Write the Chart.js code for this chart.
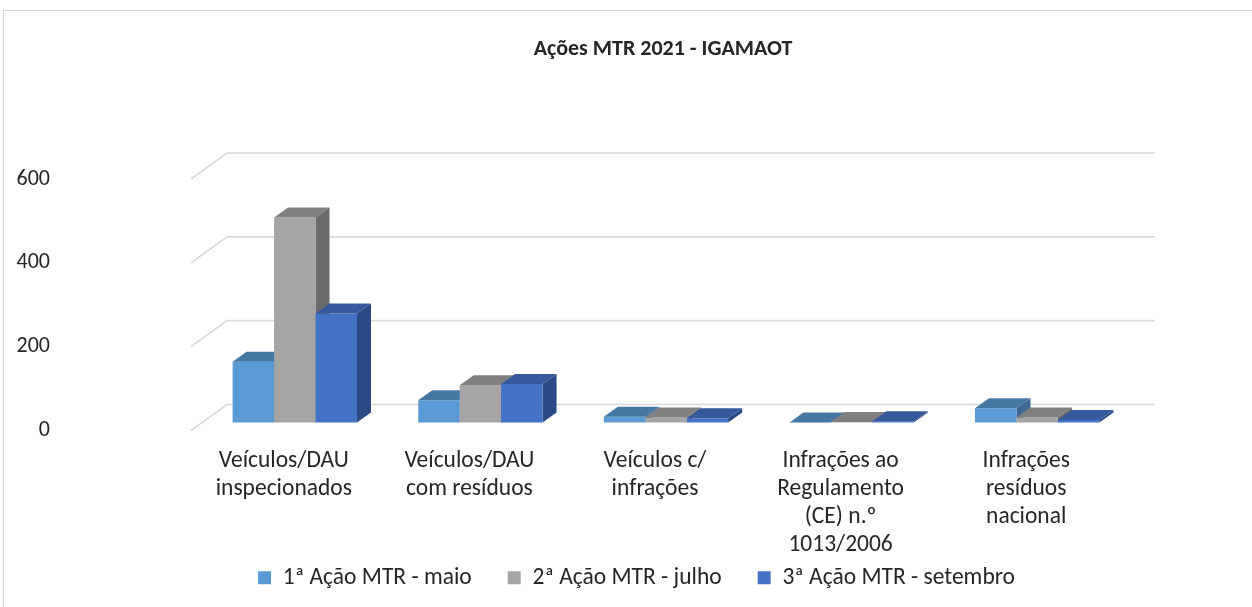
<!DOCTYPE html>
<html>
<head>
<meta charset="utf-8">
<script src="https://cdn.jsdelivr.net/npm/chart.js@4/dist/chart.umd.min.js"></script>
<style>
  html, body { margin: 0; padding: 0; background: #fff; }
  #wrap { position: relative; width: 1252px; height: 607px; }
</style>
</head>
<body>
<div id="wrap"><canvas id="c"></canvas></div>
<script>
"use strict";

var categories = [
    ["Veículos/DAU", "inspecionados"],
    ["Veículos/DAU", "com resíduos"],
    ["Veículos c/", "infrações"],
    ["Infrações ao", "Regulamento", "(CE) n.º", "1013/2006"],
    ["Infrações", "resíduos", "nacional"]
];
var seriesNames = ["1ª Ação MTR - maio", "2ª Ação MTR - julho", "3ª Ação MTR - setembro"];
var maio = [145, 53, 14, 0, 34];
var julho = [489, 89, 12, 1, 12];
var setembro = [260, 92, 10, 3, 6];
var yTicks = [0, 200, 400, 600];

var FONT = "Carlito, Lato, sans-serif";
var TEXT_COLOR = "#262626";
var GRID_COLOR = "#d9d9d9";

// front / top / side colours for each series
var FACES = [
    { front: "#5b9bd5", top: "#4577a5", side: "#3d6894" },
    { front: "#a5a5a5", top: "#808080", side: "#6a6a6a" },
    { front: "#4472c4", top: "#35599a", side: "#2b4a84" }
];

var WALL_DX = 36, WALL_DY = -26;   // depth of the floor
var BAR_DX = 11, BAR_DY = -8;      // where the bars sit inside it
var DEPTH_DX = 14, DEPTH_DY = -10; // depth of one bar

var frame = {
    id: "frame",
    beforeDraw: function(chart) {
        var ctx = chart.ctx;
        ctx.save();
        ctx.strokeStyle = GRID_COLOR;
        ctx.lineWidth = 1;
        ctx.strokeRect(3.5, 10.5, 1400, 800);
        ctx.restore();
    }
};

var wall = {
    id: "wall",
    afterLayout: function(chart) {
        // title and legend are not centred on the canvas in the original
        if (chart.titleBlock) {
            chart.titleBlock.left = 74;
        }
        if (chart.legend) {
            var h = chart.legend.height;
            chart.legend.left = 21;
            chart.legend.top = 530;
            chart.legend.bottom = 530 + h;
        }
    },
    beforeDatasetsDraw: function(chart) {
        var ctx = chart.ctx;
        var area = chart.chartArea;
        var y = chart.scales.y;
        ctx.save();
        ctx.strokeStyle = GRID_COLOR;
        ctx.lineWidth = 1.6;
        y.ticks.forEach(function(t) {
            var py = y.getPixelForValue(t.value);
            ctx.beginPath();
            ctx.moveTo(area.left, py);
            ctx.lineTo(area.left + WALL_DX, py + WALL_DY);
            ctx.lineTo(area.right + WALL_DX, py + WALL_DY);
            ctx.stroke();
        });

        var metas = chart.data.datasets.map(function(d, i) { return chart.getDatasetMeta(i); });
        for (var i = 0; i < categories.length; i++) {
            for (var j = 0; j < metas.length; j++) {
                var el = metas[j].data[i];
                var f = FACES[j];
                var left = el.x - el.width / 2 + BAR_DX;
                var right = el.x + el.width / 2 + BAR_DX;
                var top = el.y + BAR_DY;
                var bottom = el.base + BAR_DY;

                ctx.fillStyle = f.side;
                ctx.beginPath();
                ctx.moveTo(right, top);
                ctx.lineTo(right + DEPTH_DX, top + DEPTH_DY);
                ctx.lineTo(right + DEPTH_DX, bottom + DEPTH_DY);
                ctx.lineTo(right, bottom);
                ctx.closePath();
                ctx.fill();

                ctx.fillStyle = f.front;
                ctx.fillRect(left, top, right - left, bottom - top);

                ctx.fillStyle = f.top;
                ctx.beginPath();
                ctx.moveTo(left, top);
                ctx.lineTo(left + DEPTH_DX, top + DEPTH_DY);
                ctx.lineTo(right + DEPTH_DX, top + DEPTH_DY);
                ctx.lineTo(right, top);
                ctx.closePath();
                ctx.fill();
            }
        }
        ctx.restore();
        return false;
    }
};

new Chart(document.getElementById("c"), {
    type: "bar",
    data: {
        labels: categories,
        datasets: [
            { label: seriesNames[0], data: maio, backgroundColor: FACES[0].front },
            { label: seriesNames[1], data: julho, backgroundColor: FACES[1].front },
            { label: seriesNames[2], data: setembro, backgroundColor: FACES[2].front }
        ]
    },
    plugins: [frame, wall],
    options: {
        responsive: true,
        maintainAspectRatio: false,
        animation: false,
        layout: { padding: { left: 0, right: 0, top: 0, bottom: -28 } },
        datasets: { bar: { categoryPercentage: 0.67, barPercentage: 1.0 } },
        plugins: {
            title: {
                display: true,
                text: "Ações MTR 2021 - IGAMAOT",
                color: TEXT_COLOR,
                font: { family: FONT, size: 22, weight: "bold" },
                padding: { top: 36, bottom: 116.6 }
            },
            legend: {
                position: "bottom",
                labels: {
                    color: TEXT_COLOR,
                    font: { family: FONT, size: 23.5 },
                    boxWidth: 13,
                    boxHeight: 13,
                    padding: 36
                }
            },
            tooltip: { enabled: false }
        },
        scales: {
            x: {
                grid: { display: false },
                border: { display: false },
                ticks: {
                    color: TEXT_COLOR,
                    font: { family: FONT, size: 23.5, lineHeight: 1.19 },
                    padding: 9,
                    maxRotation: 0,
                    autoSkip: false
                },
                afterFit: function(s) { s.height = 135; }
            },
            y: {
                min: 0,
                max: 600,
                afterBuildTicks: function(s) {
                    s.ticks = yTicks.map(function(v) { return { value: v }; });
                },
                grid: { display: false },
                border: { display: false },
                ticks: {
                    color: TEXT_COLOR,
                    font: { family: FONT, size: 22 },
                    padding: 133
                },
                afterFit: function(s) { s.width = 191; }
            },
            y2: {
                position: "right",
                grid: { display: false },
                border: { display: false },
                ticks: { display: false },
                afterFit: function(s) { s.width = 133; }
            }
        }
    }
});
</script>
</body>
</html>
